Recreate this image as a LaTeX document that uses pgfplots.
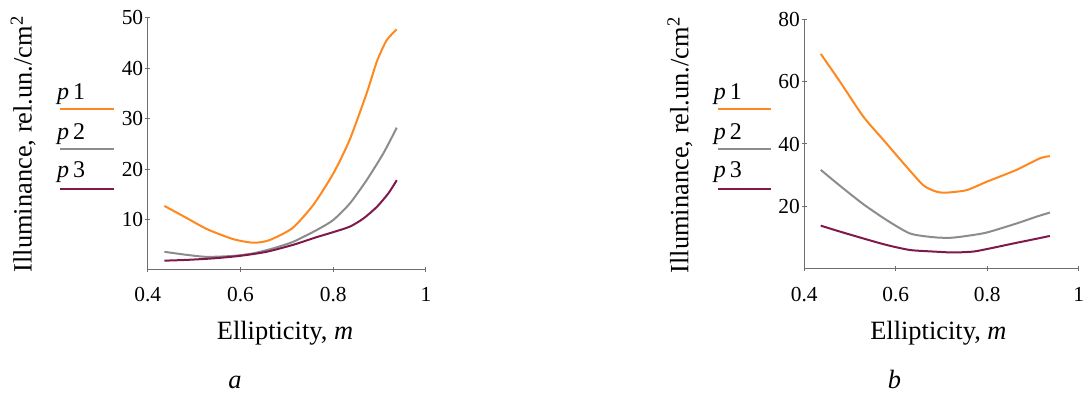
\documentclass[border=0pt]{standalone}
\usepackage{pgfplots}
\pgfplotsset{compat=1.18}
\usepackage{fontspec}
\setmainfont{Liberation Serif}
\definecolor{cOr}{RGB}{255,135,30}
\definecolor{cGr}{RGB}{140,140,140}
\definecolor{cPu}{RGB}{128,25,75}
\definecolor{cAx}{RGB}{110,110,110}
\pgfplotsset{
  myax/.style={
    scale only axis,
    axis lines*=left,
    axis line style={cAx,line width=0.5pt,-},
    tick style={cAx,line width=0.5pt},
    tick align=center,
    major tick length=2.5pt,
    xmin=0.4,xmax=1,ymin=0,
    xtick={0.4,0.6,0.8,1},
    /pgf/number format/assume math mode=true,
    /pgf/number format/.cd,fixed,precision=1,
    /pgfplots/.cd,
    yticklabel style={font=\fontsize{10.7}{12}\selectfont,anchor=east,inner sep=0pt,xshift=-0.8pt},
    xticklabel style={font=\fontsize{10.7}{12}\selectfont,anchor=base,inner sep=0pt},
    clip=false,
  },
  every axis plot/.append style={line width=1pt,no markers,smooth,tension=0.4},
}
\begin{document}
\begin{tikzpicture}
\path (0,0) rectangle (544.5pt,197pt);
% ---- left panel (a)
\begin{axis}[myax,at={(73.85pt,62pt)},anchor=south west,
  width=139.15pt,height=126.15pt,ymax=50,ytick={10,20,30,40,50},
  xticklabel style={yshift=-14.7pt}]
\addplot[cOr] coordinates {(0.436,12.7)(0.484,10.3)(0.529,8.05)(0.585,6.1)(0.628,5.4)(0.662,5.9)(0.712,8.3)(0.757,12.9)(0.800,19.1)(0.835,25.7)(0.872,35.0)(0.894,41.3)(0.915,45.5)(0.937,47.7)};
\addplot[cGr] coordinates {(0.436,3.6)(0.484,3.0)(0.528,2.6)(0.585,2.8)(0.628,3.3)(0.671,4.3)(0.714,5.6)(0.764,7.9)(0.800,9.9)(0.836,13.2)(0.872,17.8)(0.908,23.1)(0.937,28.2)};
\addplot[cPu] coordinates {(0.436,1.85)(0.484,2.0)(0.541,2.3)(0.599,2.8)(0.656,3.6)(0.714,5.0)(0.764,6.5)(0.800,7.5)(0.836,8.6)(0.865,10.2)(0.894,12.5)(0.919,15.2)(0.937,17.8)};
\end{axis}
% ---- right panel (b)
\begin{axis}[myax,at={(402.15pt,62.65pt)},anchor=south west,
  width=137.2pt,height=124.7pt,ymax=80,ytick={20,40,60,80},
  xticklabel style={yshift=-15.3pt}]
\addplot[cOr] coordinates {(0.436,68.9)(0.478,60.0)(0.529,48.8)(0.573,41.3)(0.617,33.8)(0.660,26.8)(0.689,24.7)(0.711,24.4)(0.755,25.2)(0.799,27.9)(0.864,31.7)(0.915,35.4)(0.937,36.1)};
\addplot[cGr] coordinates {(0.436,31.7)(0.478,26.6)(0.529,20.7)(0.580,15.6)(0.631,11.3)(0.682,10.1)(0.719,9.9)(0.755,10.5)(0.799,11.6)(0.864,14.5)(0.908,16.7)(0.937,18.0)};
\addplot[cPu] coordinates {(0.436,13.8)(0.478,11.9)(0.529,9.7)(0.580,7.6)(0.631,6.0)(0.682,5.5)(0.726,5.2)(0.770,5.5)(0.806,6.5)(0.864,8.3)(0.901,9.4)(0.937,10.5)};
\end{axis}
% ---- labels
\def\lab{\fontsize{13.2}{15}\selectfont}
\node[rotate=90,anchor=base,inner sep=0pt] at (15.8pt,125pt) {\lab Illuminance, rel.un./cm\textsuperscript{2}};
\node[rotate=90,anchor=base,inner sep=0pt] at (344.2pt,124.5pt) {\lab Illuminance, rel.un./cm\textsuperscript{2}};
\node[anchor=base,inner sep=0pt] at (142.5pt,27pt) {\lab Ellipticity, \textit{m}};
\node[anchor=base,inner sep=0pt] at (469.2pt,27pt) {\lab Ellipticity, \textit{m}};
\node[anchor=base,inner sep=0pt] at (117.5pt,2.5pt) {\lab\textit{a}};
\node[anchor=base,inner sep=0pt] at (447.2pt,2.5pt) {\lab\textit{b}};
% ---- legends
\def\leg{\fontsize{12}{14}\selectfont}
\foreach \xo/\xa/\xb in {28.3/30/57,356.7/358.8/385.3}{
  \node[anchor=base west,inner sep=0pt] at (\xo pt,147pt) {\leg\textit{p}\,1};
  \draw[cOr,line width=1pt] (\xa pt,142.4pt) -- (\xb pt,142.4pt);
  \node[anchor=base west,inner sep=0pt] at (\xo pt,127.3pt) {\leg\textit{p}\,2};
  \draw[cGr,line width=1pt] (\xa pt,122.4pt) -- (\xb pt,122.4pt);
  \node[anchor=base west,inner sep=0pt] at (\xo pt,108.2pt) {\leg\textit{p}\,3};
  \draw[cPu,line width=1pt] (\xa pt,102.6pt) -- (\xb pt,102.6pt);
}
\end{tikzpicture}
\end{document}
